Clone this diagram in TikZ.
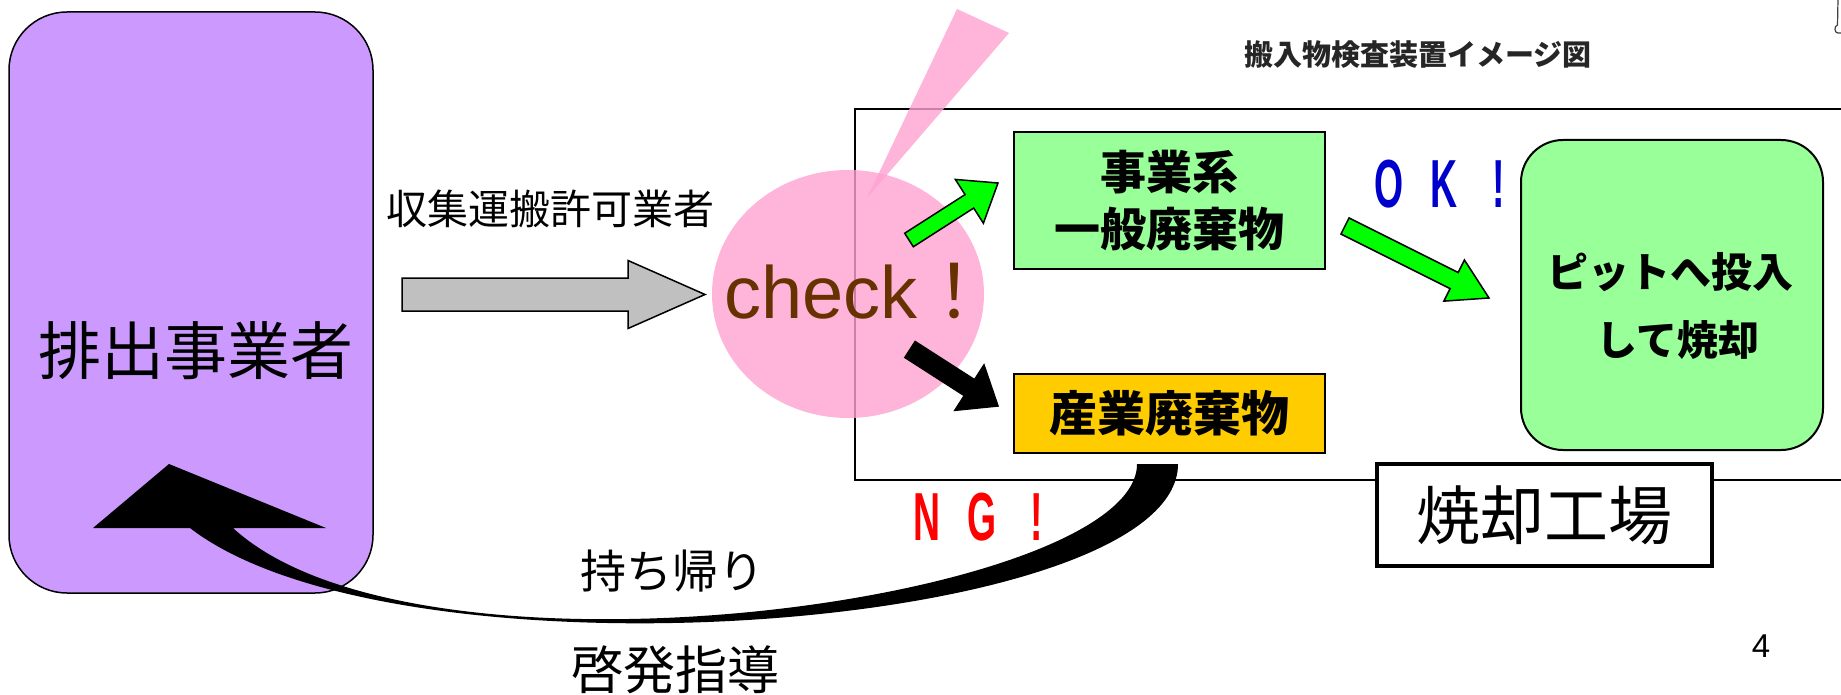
\documentclass[tikz,border=0pt]{standalone}
\usepackage{graphicx}
\usepackage{fontspec}
\setmainfont{Liberation Sans}
\newfontfamily\jp{Noto Sans CJK JP}
\usetikzlibrary{calc,shapes.geometric}
\definecolor{purplec}{RGB}{204,153,255}
\definecolor{pinkc}{RGB}{255,161,209}
\definecolor{lgreen}{RGB}{153,255,153}
\definecolor{agreen}{RGB}{0,255,0}
\definecolor{yellowc}{RGB}{255,204,0}
\definecolor{grayc}{RGB}{192,192,192}
\definecolor{brownc}{RGB}{102,51,0}
\definecolor{okblue}{RGB}{0,0,204}
\definecolor{ngred}{RGB}{255,0,0}
\newcommand{\fsz}[2]{\fontsize{#1}{#2}\selectfont}
\newcommand{\spc}[1]{\makebox[55pt]{\scalebox{0.55}[1]{#1}}}
% block arrow: #1 tail, #2 tip, #3 half shaft, #4 half head, #5 head length, #6 style, #7 neck name
\newcommand{\blockarr}[7]{%
  \coordinate (#7) at ($(#2)!#5!(#1)$);
  \draw[#6] ($(#1)!#3!90:(#2)$) -- ($(#7)!#3!-90:(#1)$) -- ($(#7)!#4!-90:(#1)$) -- (#2)
    -- ($(#7)!#4!90:(#1)$) -- ($(#7)!#3!90:(#1)$) -- ($(#1)!#3!-90:(#2)$) -- cycle;}
\tikzset{
  box/.style={draw, line width=2pt, inner sep=0pt, align=center},
  jtext/.style={inner sep=0pt, align=center},
  pinkfill/.style={fill=pinkc, fill opacity=0.8, draw=none},
  blk/.style={draw=black, line width=1.5pt, line join=miter},
}
\begin{document}
\begin{tikzpicture}[x=1pt,y=-1pt]
\useasboundingbox (0,0) rectangle (1841,695);

% left: discharging business
\node[draw, line width=1.5pt, fill=purplec, rounded corners=58pt, minimum width=364pt, minimum height=581pt, inner sep=0pt] (haishutsu) at (191,302.5) {};
\node[jtext, font=\jp\fsz{63}{70}] (haishutsutxt) at (196,351) {排出事業者};

% collector label and gray arrow
\node[jtext, font=\jp\fsz{41}{45}] (shushu) at (550,209) {収集運搬許可業者};
\coordinate (ga) at (402,294.5);
\coordinate (gb) at (705,294.5);
\blockarr{ga}{gb}{16.5pt}{34pt}{77pt}{blk, fill=grayc}{gn}

% incineration plant frame
\node[draw, line width=2pt, minimum width=995pt, minimum height=371pt, inner sep=0pt] (plant) at (1352.5,294.5) {};

% check bubble
\node[ellipse, pinkfill, minimum width=272pt, minimum height=248pt, inner sep=0pt] (check) at (848,294) {};
\fill[pinkfill] (867,198) -- (957,9) -- (1009,33) -- cycle;
\node[anchor=base west, inner sep=0pt, text=brownc, font=\fsz{74}{74}] (checktxt) at (724,318) {check{\jp ！}};

% waste boxes
\node[box, fill=lgreen, minimum width=311pt, minimum height=137pt, font=\jp\bfseries\fsz{46}{57}] (ippan) at (1169.5,200.5) {事業系\\一般廃棄物};
\node[box, fill=yellowc, minimum width=311pt, minimum height=79pt, font=\jp\bfseries\fsz{48}{52}] (sangyo) at (1169.5,413.5) {産業廃棄物};

% arrows from check
\coordinate (a1) at (909,240);
\coordinate (b1) at (998,183);
\blockarr{a1}{b1}{8pt}{26pt}{34pt}{blk, fill=agreen}{n1}
\coordinate (a2) at (910,349.5);
\coordinate (b2) at (998,406);
\blockarr{a2}{b2}{9.5pt}{27pt}{34pt}{blk, fill=black}{n2}

% OK
\node[inner sep=0pt, text=okblue, font=\bfseries\fsz{68}{68}] (ok) at (1444,184) {\spc{O}\spc{K}\spc{!}};
\coordinate (a3) at (1345,226);
\coordinate (b3) at (1489,298);
\blockarr{a3}{b3}{9pt}{23pt}{39pt}{blk, fill=agreen}{n3}

% pit box
\node[draw, line width=2pt, fill=lgreen, rounded corners=42pt, minimum width=302pt, minimum height=310pt, inner sep=0pt] (pit) at (1672,295) {};
\node[jtext, font=\jp\bfseries\fsz{41}{68}] (pittxt) at (1670,306) {ピットへ投入\\\hspace{16pt}して焼却};

% plant label
\node[draw, line width=3.5pt, fill=white, minimum width=335pt, minimum height=102pt, inner sep=0pt, font=\jp\fsz{64}{70}] (kojo) at (1544.5,515) {焼却工場};

% NG return arrow
\fill[black] (1178,464) .. controls (1178,630) and (400,690) .. (190,528)
  -- (93,528) -- (169,464) -- (326,528) -- (233,528)
  .. controls (420,700) and (1137,600) .. (1137,464) -- cycle;
\node[inner sep=0pt, text=ngred, font=\bfseries\fsz{68}{68}] (ng) at (982,517.5) {\spc{N}\spc{G}\spc{!}};
\node[jtext, font=\jp\fsz{46}{50}] (mochikaeri) at (672,571) {持ち帰り};
\node[jtext, font=\jp\fsz{52}{56}] (keihatsu) at (675,670) {啓発指導};

% title and page number
\node[jtext, font=\jp\bfseries\fsz{29}{32}, text=black!85] (title) at (1418,55) {搬入物検査装置イメージ図};
\node[inner sep=0pt, font=\fsz{33}{36}] (page) at (1761,646) {4};
\draw[line width=1.2pt, black!75] (1838,-2) -- (1837.5,25) .. controls (1834,26) and (1834,33) .. (1838,33) -- (1843,33);
\end{tikzpicture}
\end{document}
